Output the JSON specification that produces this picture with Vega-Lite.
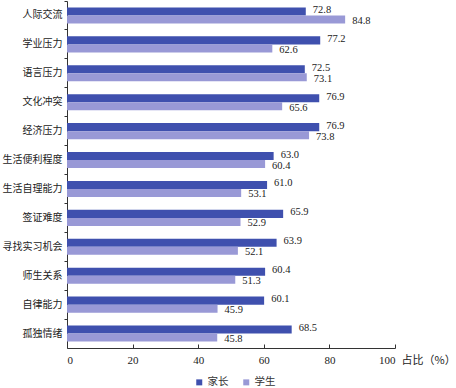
{
  "$schema": "https://vega.github.io/schema/vega-lite/v6.json",
  "width": 328,
  "height": 347,
  "autosize": "none",
  "padding": {"left": 67, "top": 1, "right": 61, "bottom": 40},
  "background": "white",
  "config": {"view": {"stroke": null}, "font": "Noto Sans CJK SC"},
  "data": {
    "values": [
      {"cat": "人际交流", "grp": "家长", "v": 72.8}, {"cat": "人际交流", "grp": "学生", "v": 84.8},
      {"cat": "学业压力", "grp": "家长", "v": 77.2}, {"cat": "学业压力", "grp": "学生", "v": 62.6},
      {"cat": "语言压力", "grp": "家长", "v": 72.5}, {"cat": "语言压力", "grp": "学生", "v": 73.1},
      {"cat": "文化冲突", "grp": "家长", "v": 76.9}, {"cat": "文化冲突", "grp": "学生", "v": 65.6},
      {"cat": "经济压力", "grp": "家长", "v": 76.9}, {"cat": "经济压力", "grp": "学生", "v": 73.8},
      {"cat": "生活便利程度", "grp": "家长", "v": 63.0}, {"cat": "生活便利程度", "grp": "学生", "v": 60.4},
      {"cat": "生活自理能力", "grp": "家长", "v": 61.0}, {"cat": "生活自理能力", "grp": "学生", "v": 53.1},
      {"cat": "签证难度", "grp": "家长", "v": 65.9}, {"cat": "签证难度", "grp": "学生", "v": 52.9},
      {"cat": "寻找实习机会", "grp": "家长", "v": 63.9}, {"cat": "寻找实习机会", "grp": "学生", "v": 52.1},
      {"cat": "师生关系", "grp": "家长", "v": 60.4}, {"cat": "师生关系", "grp": "学生", "v": 51.3},
      {"cat": "自律能力", "grp": "家长", "v": 60.1}, {"cat": "自律能力", "grp": "学生", "v": 45.9},
      {"cat": "孤独情绪", "grp": "家长", "v": 68.5}, {"cat": "孤独情绪", "grp": "学生", "v": 45.8}
    ]
  },
  "encoding": {
    "y": {
      "field": "cat", "type": "nominal", "sort": null,
      "scale": {"paddingInner": 0, "paddingOuter": 0},
      "axis": {
        "title": null, "bandPosition": 0, "domainColor": "#333", "tickColor": "#333",
        "tickSize": 3, "labelFontSize": 10, "labelColor": "#222", "labelPadding": 2,
        "labelFont": "Noto Sans CJK SC"
      }
    },
    "yOffset": {"field": "grp", "type": "nominal", "sort": ["家长", "学生"], "scale": {"paddingOuter": 0.8, "paddingInner": 0}},
    "x": {
      "field": "v", "type": "quantitative",
      "scale": {"domain": [0, 100], "nice": false},
      "axis": {
        "title": "占比（%）", "values": [0, 20, 40, 60, 80, 100], "grid": false,
        "domainColor": "#333", "tickColor": "#333", "tickSize": -4, "labelPadding": 10,
        "labelFont": "Liberation Serif", "labelFontSize": 11, "labelColor": "#222",
        "titleFont": "Noto Sans CJK SC", "titleFontSize": 11, "titleFontWeight": "normal",
        "titleColor": "#222", "titleAnchor": "start", "titleAlign": "left", "titleBaseline": "middle",
        "titleX": 334, "titleY": 12
      }
    }
  },
  "layer": [
    {
      "mark": {"type": "bar"},
      "encoding": {
        "color": {
          "field": "grp", "type": "nominal", "sort": ["家长", "学生"],
          "scale": {"domain": ["家长", "学生"], "range": ["#3f50ae", "#9999d6"]},
          "legend": {
            "title": null, "orient": "none", "direction": "horizontal",
            "legendX": 127, "legendY": 376,
            "symbolType": "square", "symbolSize": 36, "labelFontSize": 10.5,
            "labelFont": "Noto Sans CJK SC", "labelColor": "#333", "labelOffset": 3,
            "columnPadding": 12, "symbolStrokeWidth": 0
          }
        }
      }
    },
    {
      "transform": [{"filter": "datum.grp === '家长'"}],
      "mark": {"type": "text", "align": "left", "dx": 7, "dy": -1.5, "font": "Liberation Serif", "fontSize": 10.5, "color": "#222"},
      "encoding": {"text": {"field": "v", "type": "quantitative", "format": ".1f"}}
    },
    {
      "transform": [{"filter": "datum.grp === '学生'"}],
      "mark": {"type": "text", "align": "left", "dx": 7, "dy": 1.5, "font": "Liberation Serif", "fontSize": 10.5, "color": "#222"},
      "encoding": {"text": {"field": "v", "type": "quantitative", "format": ".1f"}}
    }
  ]
}
